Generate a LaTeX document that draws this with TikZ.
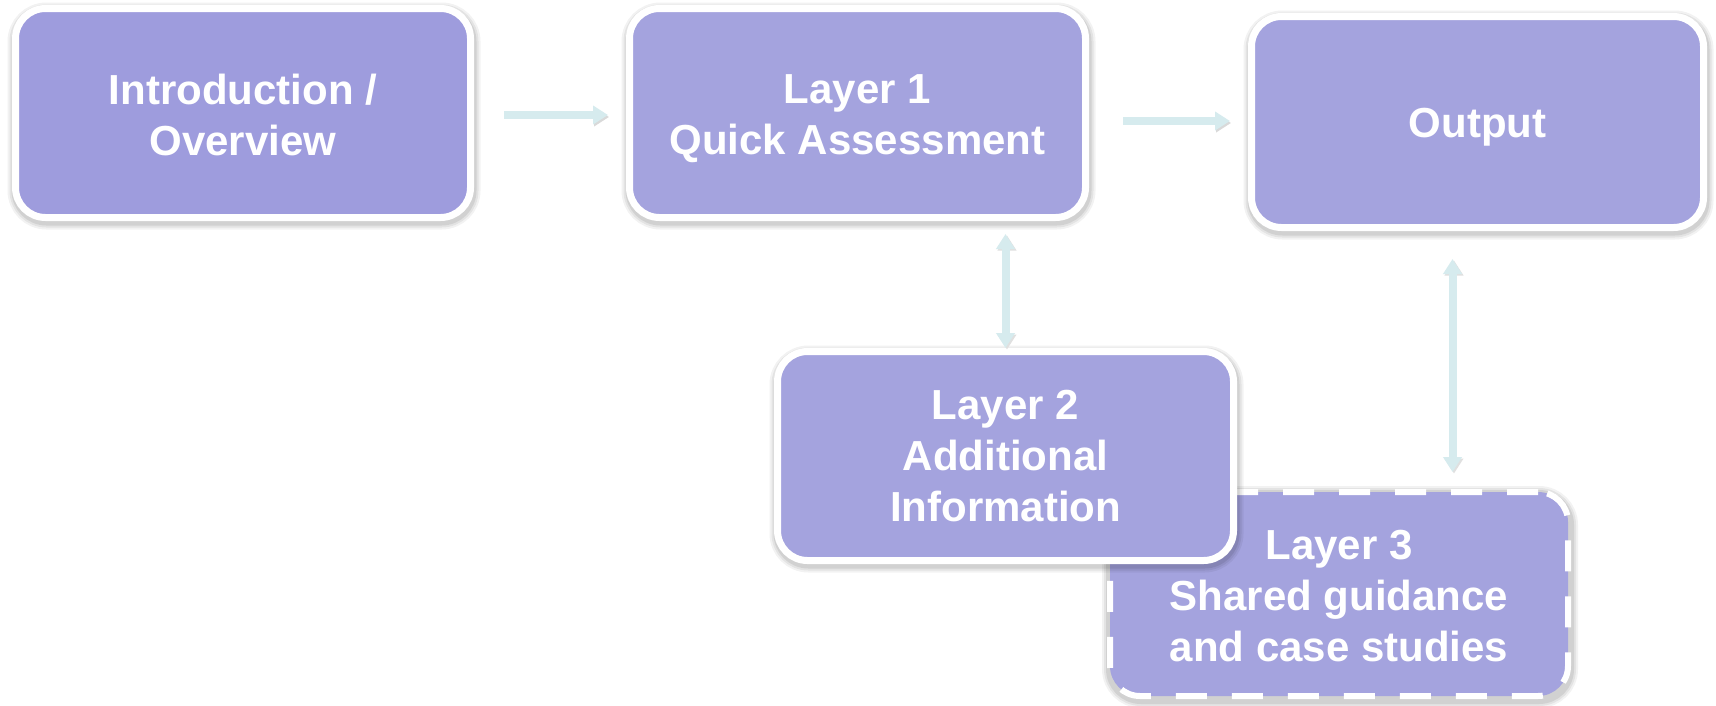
\documentclass[tikz,border=0pt]{standalone}
\usepackage{fontspec}
\setmainfont{Liberation Sans}
\usetikzlibrary{arrows.meta,calc}
\definecolor{boxA}{HTML}{9E9CDD}
\definecolor{boxB}{HTML}{A4A3DE}
\definecolor{arrc}{HTML}{D6EBEE}
\tikzset{
  glow/.style={preaction={draw=black, solid, draw opacity=#1, transform canvas={xshift=1pt,yshift=-3pt}}},
  box/.style={rectangle, rounded corners=30pt, draw=white, line width=7pt, fill=boxB,
    preaction={draw=black, solid, draw opacity=0.05, line width=18pt, transform canvas={xshift=1pt,yshift=-3pt}},
    preaction={draw=black, solid, draw opacity=0.06, line width=14pt, transform canvas={xshift=1pt,yshift=-3pt}},
    preaction={draw=black, solid, draw opacity=0.08, line width=10pt, transform canvas={xshift=1pt,yshift=-3pt}}},
  txt/.style={align=center, text=white, font=\fontsize{42}{51}\selectfont\bfseries, inner sep=0pt},
  arr/.style={draw=arrc, line width=8pt, -{Triangle[width=18pt,length=15pt]},
    preaction={draw=black!15, transform canvas={xshift=1pt,yshift=-2pt}}},
  darr/.style={draw=arrc, line width=8pt, {Triangle[width=18pt,length=15pt]}-{Triangle[width=18pt,length=15pt]},
    preaction={draw=black!12, transform canvas={xshift=1.5pt,yshift=-1.5pt}}}
}
\begin{document}
\begin{tikzpicture}[x=1pt,y=-1pt]
\useasboundingbox[fill=white] (0,0) rectangle (1716,705);
\node[box, fill=boxA, minimum width=455pt, minimum height=209pt] (intro) at (243,113) {};
\node[txt] (introt) at ([yshift=-2pt]intro.center) {Introduction /\\Overview};
\node[box, minimum width=456pt, minimum height=209pt] (l1) at (857.5,113) {};
\node[txt] (l1t) at ([yshift=-6pt]l1.center) {Layer 1\\Quick Assessment};
\node[box, minimum width=452pt, minimum height=211pt] (out) at (1477.5,122) {};
\node[txt] (outt) at ([yshift=-5pt]out.center) {Output};
\node[box, dash pattern=on 31pt off 25pt, line width=6pt, minimum width=458pt, minimum height=204pt] (l3) at (1339,594) {};
\node[txt] (l3t) at ([yshift=-2pt]l3.center) {Layer 3\\Shared guidance\\and case studies};
\node[box, minimum width=456pt, minimum height=209pt] (l2) at (1005.5,456) {};
\node[txt] (l2t) at (l2.center) {Layer 2\\Additional\\Information};
\draw[arr, shorten <=30pt, shorten >=18pt] ($(intro.east)+(0,2)$) -- ($(l1.west)+(0,2)$);
\draw[arr, shorten <=34pt, shorten >=18pt] ($(l1.east)+(0,8)$) -- ($(out.west)+(0,-1)$);
\draw[darr, shorten <=13pt, shorten >=0pt] (l1.south -| l2.north) -- (l2.north);
\draw[darr, shorten <=28pt, shorten >=17pt] ([xshift=-25pt]out.south) -- ([xshift=-25pt]out.south |- l3.north);
\end{tikzpicture}
\end{document}
